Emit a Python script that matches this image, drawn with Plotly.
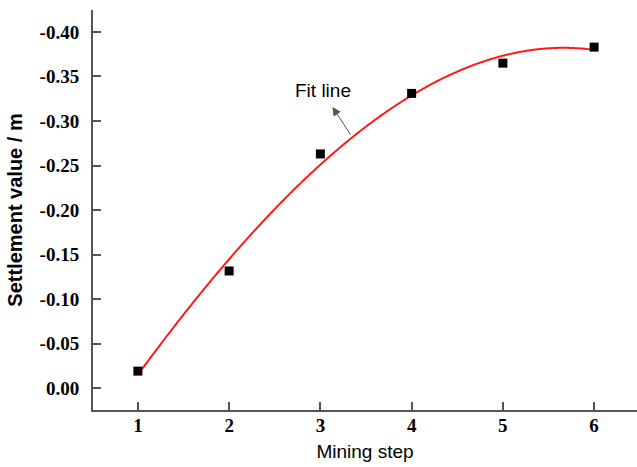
import numpy as np
import plotly.graph_objects as go

# Measured settlement at each mining step
mining_step = [1, 2, 3, 4, 5, 6]
settlement = [-0.019, -0.1315, -0.263, -0.331, -0.365, -0.383]

y_tick_vals = [0.00, -0.05, -0.10, -0.15, -0.20, -0.25, -0.30, -0.35, -0.40]
y_tick_text = ["0.00", "-0.05", "-0.10", "-0.15", "-0.20", "-0.25", "-0.30", "-0.35", "-0.40"]

# Polynomial fit through the measurements
coef = np.polyfit(mining_step, settlement, 3)
x_fit = np.linspace(min(mining_step), max(mining_step), 300)
y_fit = np.polyval(coef, x_fit)

fig = go.Figure()
fig.add_trace(go.Scatter(
    x=x_fit, y=y_fit, mode="lines",
    line=dict(color="#ff1a1a", width=2, shape="spline"), hoverinfo="skip", showlegend=False,
))
fig.add_trace(go.Scatter(
    x=mining_step, y=settlement, mode="markers",
    marker=dict(symbol="square", size=9, color="black"), showlegend=False,
))

# Arrow pointing from the curve towards the label
fig.add_annotation(
    x=3.133, y=-0.3157, ax=3.341, ay=-0.283,
    xref="x", yref="y", axref="x", ayref="y",
    text="", showarrow=True, arrowhead=2, arrowsize=1.7, arrowwidth=1,
    arrowcolor="#555555",
)
fig.add_annotation(
    x=3.024, y=-0.334, xref="x", yref="y", text="Fit line", showarrow=False,
    font=dict(family="Liberation Sans, Arial", size=19, color="black"),
)

tick_font = dict(family="Liberation Serif, Times New Roman", size=19, color="black", weight="bold")

fig.update_layout(
    width=637, height=467,
    margin=dict(l=93, r=0, t=10, b=57),
    paper_bgcolor="white", plot_bgcolor="white",
    xaxis=dict(
        range=[0.508, 6.47], tickvals=mining_step,
        ticks="inside", ticklen=8, tickwidth=1.5, tickcolor="#555555",
        showline=True, linecolor="#555555", linewidth=2,
        showgrid=False, zeroline=False,
        tickfont=tick_font, ticklabelstandoff=-3,
        title=dict(text="Mining step", font=dict(family="Liberation Sans, Arial", size=19, color="black"), standoff=10),
    ),
    yaxis=dict(
        range=[0.0247, -0.4247], tickvals=y_tick_vals, ticktext=y_tick_text,
        ticks="inside", ticklen=8, tickwidth=1.5, tickcolor="#555555",
        showline=True, linecolor="#555555", linewidth=2,
        showgrid=False, zeroline=False,
        tickfont=tick_font, ticklabelstandoff=8,
        title=dict(text="<b>Settlement value / m</b>", font=dict(family="Liberation Sans, Arial", size=20, color="black"), standoff=12),
    ),
)

fig.write_html("out.html")
